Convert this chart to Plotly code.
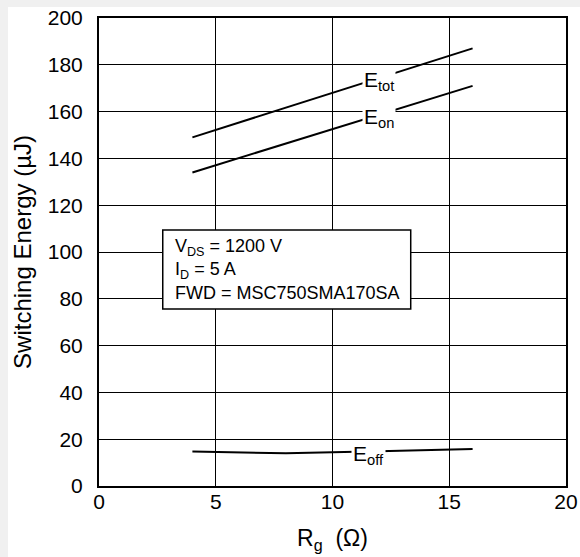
import plotly.graph_objects as go

rg = [4, 8, 12, 16]
e_tot = [149.0, 161.7, 174.3, 187.0]
e_on = [134.0, 146.3, 158.7, 171.0]
e_off = [14.7, 14.0, 14.8, 15.8]

x_ticks = [0, 5, 10, 15, 20]
y_ticks = [0, 20, 40, 60, 80, 100, 120, 140, 160, 180, 200]

FONT = "Liberation Sans, Arial, sans-serif"
W, H = 580, 557
ML, MR, MT, MB = 99, 14, 18, 71
PW, PH = W - ML - MR, H - MT - MB


def px_x(p):
    return (p - ML) / PW


def px_y(p):
    return (H - MB - p) / PH


fig = go.Figure()
for ys in (e_tot, e_on, e_off):
    fig.add_trace(go.Scatter(x=rg, y=ys, mode="lines",
                             line=dict(color="black", width=2),
                             showlegend=False, hoverinfo="skip"))

# curve labels with white background (break the lines)
labels = [
    ("E<sub>tot</sub>", 12.0, 174.3, -3),
    ("E<sub>on</sub>", 12.0, 158.7, -3),
    ("E<sub>off</sub>", 11.55, 14.3, -2),
]
for txt, xv, yv, ys in labels:
    fig.add_annotation(x=xv, y=yv, text=txt, showarrow=False,
                       font=dict(family=FONT, size=21, color="black"),
                       bgcolor="white", borderpad=1, yshift=ys)

# conditions box
fig.add_shape(type="rect", xref="x", yref="y", x0=2.73, x1=13.35, y0=75.6, y1=109.4,
              line=dict(color="black", width=1.5), fillcolor="white", layer="above")
fig.add_annotation(x=3.15, y=107.6, xanchor="left", yanchor="top", showarrow=False,
                   align="left",
                   text="V<sub>DS</sub> = 1200 V<br>I<sub>D</sub> = 5 A<br>FWD = MSC750SMA170SA",
                   font=dict(family=FONT, size=18, color="black"))

# white panel on gray page (offset frame as in the reference)
fig.add_shape(type="rect", xref="paper", yref="paper",
              x0=px_x(8), x1=px_x(W + 10), y0=px_y(H + 10), y1=px_y(7),
              fillcolor="white", line=dict(width=0), layer="below")

fig.update_xaxes(range=[0, 20], tickvals=x_ticks, showgrid=True, gridcolor="black",
                 gridwidth=1, zeroline=False, showline=True, linecolor="black",
                 linewidth=2, mirror=True, ticks="", ticklabelstandoff=-4,
                 automargin=False, ticklabeloverflow="allow",
                 tickfont=dict(family=FONT, size=21, color="black"),
                 title=dict(text="R<sub>g</sub>  (Ω)", standoff=18,
                            font=dict(family=FONT, size=23, color="black")))
fig.update_yaxes(range=[0, 200], tickvals=y_ticks, showgrid=True, gridcolor="black",
                 gridwidth=1, zeroline=False, showline=True, linecolor="black",
                 linewidth=2, mirror=True, ticks="", ticklabelstandoff=10,
                 automargin=False, ticklabeloverflow="allow",
                 tickfont=dict(family=FONT, size=21, color="black"),
                 title=dict(text="Switching Energy (µJ)", standoff=9,
                            font=dict(family=FONT, size=24, color="black")))

fig.update_layout(width=W, height=H, margin=dict(l=ML, r=MR, t=MT, b=MB),
                  paper_bgcolor="#f0f0f0", plot_bgcolor="white")

fig.write_html("out.html", config={"displayModeBar": False},
               post_script="document.body.style.margin='0';"
                           "document.body.style.background='#f0f0f0';")
